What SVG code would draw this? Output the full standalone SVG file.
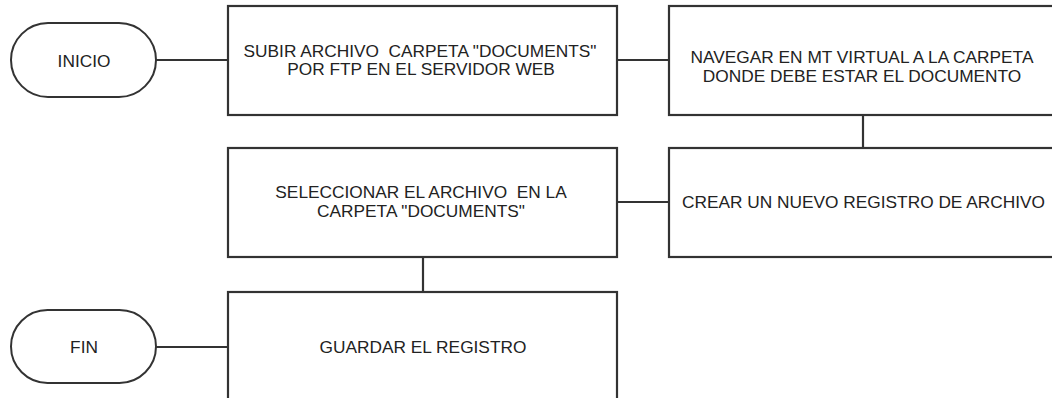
<svg xmlns="http://www.w3.org/2000/svg" width="1052" height="398" viewBox="0 0 1052 398">
<style>
.box{fill:#fff;stroke:#333;stroke-width:2.2}
.term{fill:#fff;stroke:#333;stroke-width:2}
.conn{stroke:#333;stroke-width:2.2;fill:none}
text{font-family:"Liberation Sans",Arial,sans-serif;font-size:17.3px;fill:#222;text-anchor:middle}
</style>
<rect width="1052" height="398" fill="#fff"/>
<g id="connectors">
<line class="conn" x1="156" y1="60" x2="228" y2="60"/>
<line class="conn" x1="617" y1="60" x2="669" y2="60"/>
<line class="conn" x1="863" y1="115" x2="863" y2="148"/>
<line class="conn" x1="617" y1="202" x2="669" y2="202"/>
<line class="conn" x1="423" y1="257" x2="423" y2="292"/>
<line class="conn" x1="156" y1="347" x2="228" y2="347"/>
</g>
<g id="inicio">
<rect class="term" x="11" y="23" width="145" height="74" rx="37" ry="37"/>
<text x="84" y="66.5">INICIO</text>
</g>
<g id="subir">
<rect class="box" x="228" y="6" width="389" height="109"/>
<text x="420" y="56.7" xml:space="preserve">SUBIR ARCHIVO  CARPETA "DOCUMENTS"</text>
<text x="421" y="75">POR FTP EN EL SERVIDOR WEB</text>
</g>
<g id="navegar">
<rect class="box" x="669" y="6" width="400" height="109"/>
<text x="862" y="63">NAVEGAR EN MT VIRTUAL A LA CARPETA</text>
<text x="862" y="81.5">DONDE DEBE ESTAR EL DOCUMENTO</text>
</g>
<g id="crear">
<rect class="box" x="669" y="148" width="400" height="109"/>
<text x="863.5" y="208.3">CREAR UN NUEVO REGISTRO DE ARCHIVO</text>
</g>
<g id="seleccionar">
<rect class="box" x="228" y="148" width="389" height="109"/>
<text x="421" y="198.3" xml:space="preserve">SELECCIONAR EL ARCHIVO  EN LA</text>
<text x="421" y="216.7">CARPETA "DOCUMENTS"</text>
</g>
<g id="guardar">
<rect class="box" x="228" y="292" width="389" height="115"/>
<text x="423" y="352.7">GUARDAR EL REGISTRO</text>
</g>
<g id="fin">
<rect class="term" x="11" y="310" width="145" height="73" rx="36.5" ry="36.5"/>
<text x="84" y="352.7">FIN</text>
</g>
</svg>
